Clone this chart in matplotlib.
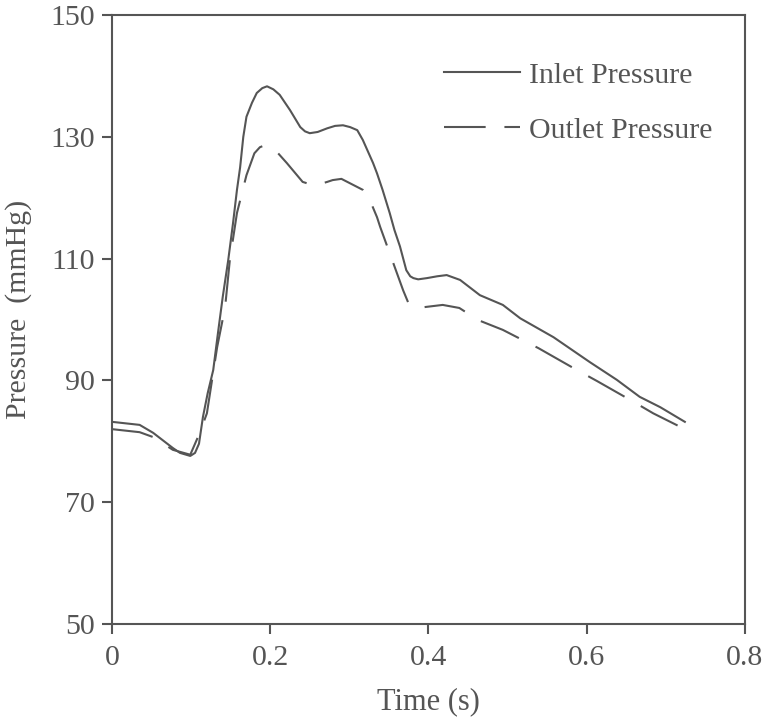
import matplotlib
matplotlib.use("Agg")
import matplotlib.pyplot as plt

# Inlet pressure (time s, mmHg)
inlet_t = [0.0, 0.035, 0.052, 0.077, 0.086, 0.099, 0.105, 0.110, 0.115, 0.121, 0.128, 0.134,
           0.140, 0.147, 0.153, 0.158, 0.162, 0.166, 0.170, 0.177, 0.183, 0.190, 0.196, 0.204,
           0.212, 0.225, 0.238, 0.244, 0.250, 0.260, 0.272, 0.282, 0.292, 0.301, 0.310, 0.317,
           0.330, 0.335, 0.342, 0.351, 0.357, 0.364, 0.372, 0.377, 0.381, 0.387, 0.398, 0.411,
           0.423, 0.440, 0.465, 0.494, 0.516, 0.558, 0.604, 0.638, 0.667, 0.693, 0.724]
inlet_p = [83.2, 82.7, 81.4, 78.9, 78.1, 77.6, 78.1, 79.6, 84.0, 87.9, 91.7, 97.8,
           103.7, 109.8, 115.8, 121.3, 125.0, 130.0, 133.3, 135.6, 137.2, 138.0, 138.3, 137.8,
           136.9, 134.4, 131.6, 130.9, 130.6, 130.8, 131.4, 131.8, 131.9, 131.6, 131.1, 129.5,
           125.7, 124.0, 121.3, 117.5, 114.7, 112.0, 108.1, 107.1, 106.8, 106.6, 106.8, 107.1,
           107.3, 106.5, 104.0, 102.4, 100.2, 97.1, 93.0, 90.1, 87.3, 85.6, 83.2]

# Outlet pressure (time s, mmHg)
outlet_t = [0.0, 0.035, 0.052, 0.077, 0.099, 0.111, 0.120, 0.133, 0.143, 0.149, 0.158, 0.170,
            0.180, 0.187, 0.193, 0.200, 0.210, 0.221, 0.241, 0.246, 0.254, 0.259, 0.272, 0.279,
            0.290, 0.317, 0.326, 0.335, 0.339, 0.351, 0.368, 0.375,
            0.386, 0.418, 0.439, 0.463, 0.494, 0.512, 0.539, 0.585, 0.613, 0.659, 0.684, 0.724]
outlet_p = [82.0, 81.5, 80.7, 78.6, 77.8, 81.4, 84.6, 95.5, 102.0, 109.8, 117.5, 123.7,
            127.3, 128.3, 128.6, 128.4, 127.3, 125.7, 122.6, 122.4, 122.1, 122.1, 122.6, 122.9,
            123.1, 121.3, 119.6, 116.8, 115.2, 110.9, 104.8, 102.6,
            101.9, 102.4, 101.9, 99.9, 98.3, 97.1, 95.3, 91.9, 89.9, 86.5, 84.6, 82.0]

x_ticks = [0, 0.2, 0.4, 0.6, 0.8]
x_tick_labels = ["0", "0.2", "0.4", "0.6", "0.8"]
y_ticks = [50, 70, 90, 110, 130, 150]

col = "#555555"
plt.rcParams['font.family'] = ['Liberation Serif', 'DejaVu Serif']
fs = 21.5

fig = plt.figure(figsize=(7.72, 7.17), dpi=100)
ax = fig.add_axes([0.145, 0.1297, 0.82, 0.8493])

ax.plot(inlet_t, inlet_p, color=col, lw=1.5, label="Inlet Pressure")
ax.plot(outlet_t, outlet_p, color=col, lw=1.5, ls=(0, (20, 9)), label="Outlet Pressure")

ax.set_xlim(0, 0.8)
ax.set_ylim(50, 150)
ax.set_xticks(x_ticks)
ax.set_xticklabels(x_tick_labels)
ax.set_yticks(y_ticks)

for s in ax.spines.values():
    s.set_color(col)
    s.set_linewidth(1.5)
ax.tick_params(direction='out', length=7, width=1.5, color=col, labelcolor=col,
               labelsize=fs, pad=5)
ax.tick_params(axis='x', pad=8)

ax.set_xlabel("Time (s)", fontsize=fs + 0.5, color=col, labelpad=12)
ax.set_ylabel("Pressure  (mmHg)", fontsize=fs, color=col)
ax.yaxis.set_label_coords(-0.127, 0.516)

leg = ax.legend(loc='upper left', bbox_to_anchor=(0.525, 0.9235), frameon=False,
                fontsize=fs, handlelength=2.55, handletextpad=0.3, labelspacing=0.95,
                borderaxespad=0, borderpad=0)
for t in leg.get_texts():
    t.set_color(col)

fig.savefig("out.png", dpi=100)
